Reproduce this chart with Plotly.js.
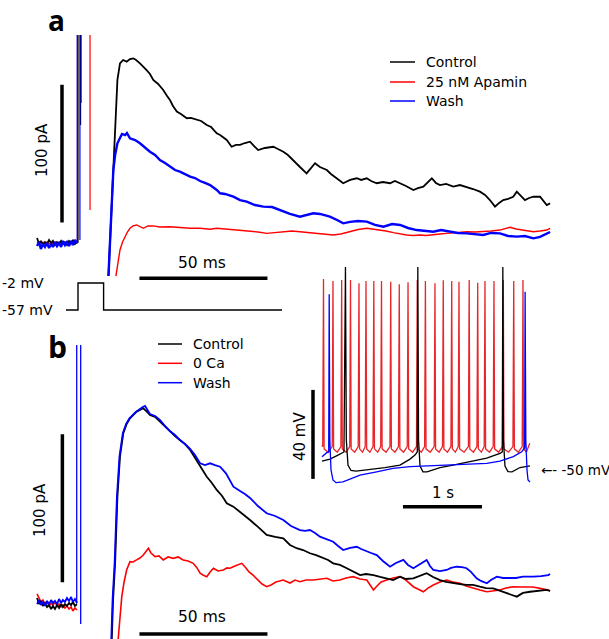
<!DOCTYPE html>
<html><head><meta charset="utf-8">
<script src="https://cdn.plot.ly/plotly-3.0.1.min.js"></script>
<style>html,body{margin:0;padding:0;background:#fff}#chart{width:609px;height:639px}</style>
</head><body><div id="chart"></div>
<script>
// ===== Panel a : tail currents (time ms, current pA) =====
const aBaseT = [-16,-15.2,-14.5,-13.7,-12.9,-12.1,-11.3,-10.5,-9.8,-9,-8.2,-7.4,-6.6,-5.9,-5.1,-4.3,-3.5,-2.7,-2,-1.2,-0.4];
const aCtrlBase = [3.6,-0.7,1.5,-1.5,0.7,-0.7,2.2,0,1.5,-1.5,0.7,-0.7,1.5,-0.7,0.7,-1.5,1.5,0,2.2,-0.7,0.7];
const aApaBase  = [0,1,0,0.5,0,0.7,-0.5,0,-0.7,0.7,0,0.5,0,0.7,-0.7,0,0.7,0,-0.5,0.5,0.7];
const aWashBase = [-2.2,0.7,-4.4,-0.7,-2.9,0,-3.6,-0.7,-2.9,0.7,-2.2,0,-2.9,1.5,-1.5,0.7,-2.2,1.5,-1.5,2.2,0];
// capacitive transients (clipped)
const aCtrlTrT = [-0.4,0,0,null,1.0,1.0], aCtrlTrI = [0.7,0.7,151.1,null,151.1,85.7];
const aApaTrT = [-0.4,-0.2,-0.2,null,1.25,1.25,null,4.7,4.7], aApaTrI = [0.7,0.7,151.1,null,151.1,101.7,null,151.1,24.0];
const aWashTrT = [-0.4,-0.3,-0.3,null,0.75,0.75], aWashTrI = [0,0,151.1,null,151.1,2.2];
// tails
const aCtrlT = [11.9,12.9,13.8,14.5,15.4,16.4,17.6,19.0,20.3,21.6,22.7,24.2,25.4,26.8,28.1,29.4,31.3,33.3,34.8,35.9,37.1,38.6,40.2,42.5,44.1,46.4,48.1,50.3,52.0,54.2,55.5,58.1,60.0,61.7,63.3,65.2,67.2,68.8,70.4,73.0,76.3,78.1,80.2,82.0,84.1,86.7,89.3,91.0,92.6,94.5,97.2,98.8,101.1,103.6,106.3,108.9,110.6,112.8,114.5,116.7,119.1,121.9,123.8,125.8,128.1,131.0,132.8,134.9,136.7,138.2,139.8,141.4,143.8,146.6,149.2,151.8,154.3,157.0,159.0,160.9,162.9,164.5,166.1,168.0,170.0,171.4,172.7,174.6,176.2,177.9,180.5,181.6,183.1,184.4];
const aCtrlI = [-24.0,20.3,58.1,89.3,118.4,130.5,132.9,131.7,133.6,134.1,132.9,130.5,128.5,125.6,122.7,118.4,115.5,111.1,106.8,103.9,99.5,95.4,93.7,90.6,90.8,89.3,88.6,85.7,84.2,79.7,78.4,74.8,69.9,71.2,71.2,72.6,73.6,70.4,67.5,69.0,69.9,68.3,66.3,63.9,60.3,55.2,50.6,54.5,57.9,55.2,53.0,50.1,47.0,43.4,45.8,47.0,45.8,47.0,45.0,43.4,44.3,43.4,45.0,43.4,41.4,38.5,39.9,40.9,44.3,47.0,43.6,42.1,42.9,40.9,42.1,40.9,39.2,37.3,34.9,31.2,26.4,29.1,31.2,32.0,33.6,37.3,34.9,31.2,32.7,33.6,33.6,31.2,27.6,28.8];
const aApaT = [14.8,15.6,16.4,17.4,18.4,19.3,20.3,21.5,22.9,24.2,25.5,27.3,29.4,32.0,35.9,39.8,43.8,47.7,51.6,54.2,57.4,60.7,63.7,67.2,70.3,73.7,77.0,80.2,83.6,86.7,89.8,93.2,96.5,99.7,102.7,106.3,109.4,112.8,115.2,118.0,120.3,123.2,125.8,128.4,130.9,133.6,135.9,138.8,141.4,144.0,147.7,151.8,155.1,158.3,161.3,164.8,166.8,168.8,171.1,174.0,175.8,177.9,180.5,183.1,184.4];
const aApaI = [-24.0,-13.8,-5.1,0.7,4.6,8.0,10.7,12.4,13.1,11.6,10.7,12.4,12.4,11.6,11.8,11.3,10.7,10.7,10.0,10.7,10.2,9.4,8.7,8.2,8.0,7.0,7.6,8.2,8.7,8.2,7.6,7.0,6.5,5.8,6.5,8.2,9.8,10.7,10.2,9.4,8.7,7.5,6.5,5.8,5.5,5.8,5.5,5.8,6.5,7.0,7.6,8.2,8.0,8.2,8.7,9.4,10.5,11.4,10.2,9.4,8.7,8.2,8.7,9.4,10.7];
const aWashT = [11.9,12.9,13.8,14.5,15.4,16.4,17.2,18.4,19.1,20.3,22.3,24.2,26.2,28.1,30.1,32.0,34.0,35.9,37.9,39.8,41.8,43.8,45.7,47.7,49.6,51.6,54.2,55.5,57.4,58.7,60.7,63.3,65.9,69.1,72.4,75.8,78.9,82.8,86.7,89.1,91.9,94.5,98.4,101.2,103.6,106.3,109.4,112.8,116.0,119.3,122.7,125.8,128.9,132.3,135.6,138.8,141.8,145.3,148.4,151.8,155.1,158.3,161.3,164.8,168.0,171.4,174.6,177.9,180.5,183.1,184.4];
const aWashI = [-24.0,16.7,53.0,63.9,72.4,76.3,79.2,78.4,79.9,76.0,74.8,72.4,69.0,66.3,63.9,60.3,58.1,55.4,53.0,51.8,50.1,48.2,47.2,45.0,43.6,42.1,38.5,36.1,35.6,34.9,33.6,31.2,30.0,27.6,26.4,26.1,24.0,21.1,19.1,20.3,21.6,21.1,19.1,16.7,14.3,15.3,16.0,15.5,13.1,11.8,13.8,13.1,10.9,9.4,8.7,8.2,9.4,8.2,7.3,7.0,6.5,5.8,7.3,7.0,5.1,4.6,5.1,3.4,4.4,7.0,8.0];

// voltage protocol (ms, mV)
const protT = [-4.7,0,0,10,10,79.7];
const protV = [-57,-57,-2,-2,-57,-57];

// ===== Panel b =====
const bBaseT = aBaseT;
const bCtrlBase = [3.4,-0.7,1.4,-2.0,0,-2.7,-1.4,-4.1,-2.0,-4.1,-1.4,-3.4,-0.7,-2.7,-0.7,-2.0,0,-1.4,0.7,-2.0,-0.7];
const bCaBase   = [6.1,2.7,0.7,2.0,-0.7,0.7,-2.0,0,-1.4,0.7,-2.0,-0.7,-2.7,-1.4,-3.4,-2.0,-4.1,-2.7,-5.4,-3.4,-4.7];
const bWashBase = [-0.7,2.0,-1.4,0.7,-2.0,1.4,-0.7,2.0,0,1.4,-0.7,2.7,0,2.0,0.7,3.4,1.4,4.1,0.7,2.7,0];
const bTrT = [-0.4,-0.5,-0.5,null,1.05,1.05], bTrI = [0,0,174.3,null,174.3,-14.2];
const bCtrlT = [13.2,13.7,14.5,15.4,16.4,17.7,19.0,20.3,22.9,24.2,25.5,27.0,28.1,30.1,32.0,34.0,35.9,37.9,39.8,41.8,43.8,45.7,47.7,50.3,52.0,54.2,56.3,58.1,60.7,63.3,65.2,67.2,70.3,73.7,77.0,80.2,82.8,85.4,87.9,90.6,93.0,95.8,97.7,99.7,102.3,105.0,107.4,110.2,112.5,115.4,118.0,120.6,123.1,125.8,128.1,131.0,133.6,136.2,138.7,141.4,143.8,146.6,149.2,151.8,154.3,157.0,159.4,162.2,164.8,167.5,169.5,171.4,173.8,176.6,179.7,183.1,184.4];
const bCtrlI = [-24.3,2.0,27.0,71.8,98.9,114.7,121.0,124.8,129.3,130.4,131.6,129.1,127.0,125.7,122.5,118.9,115.7,112.8,110.1,107.4,103.4,98.0,92.1,85.3,81.8,76.4,72.3,67.4,65.1,61.5,59.5,56.1,51.4,46.0,44.6,43.7,39.2,37.0,35.8,33.6,32.4,30.2,29.1,26.8,25.7,23.5,21.6,18.9,19.6,18.9,17.6,16.7,15.5,17.8,16.2,16.7,18.2,20.1,17.6,15.5,14.2,13.3,12.8,12.2,12.2,11.0,10.1,9.9,8.1,6.6,5.4,4.3,6.8,7.6,8.1,8.8,8.1];
const bCaT = [15.7,16.4,17.1,18.0,19.0,20.3,21.5,22.9,24.2,25.5,26.6,27.5,28.5,30.1,31.6,33.3,35.2,37.2,39.1,41.1,43.0,45.0,46.5,47.7,48.8,50.3,51.6,52.9,54.7,56.8,58.2,59.4,61.3,64.0,65.6,66.8,68.5,70.3,71.9,73.7,75.4,77.3,80.2,82.8,84.8,86.7,89.1,91.9,94.5,97.2,99.6,102.3,104.7,107.5,110.2,112.8,114.1,115.4,116.8,118.4,120.6,123.1,125.8,128.1,131.0,132.8,134.9,136.7,138.8,141.4,144.0,146.5,149.2,151.6,154.4,157.0,159.7,162.1,164.8,167.2,170.0,172.7,175.3,177.7,180.5,182.4,183.7,184.4];
const bCaI = [-24.3,-10.1,4.3,14.2,22.3,27.9,27.7,29.1,30.4,32.4,35.1,37.0,33.8,31.3,31.8,29.1,31.1,30.2,31.1,29.1,28.4,26.8,23.7,20.1,18.9,17.8,21.0,23.5,21.6,22.3,23.7,23.5,25.0,26.8,23.7,21.0,18.6,15.5,12.8,11.0,12.2,14.2,15.5,13.5,15.5,14.4,15.5,15.5,16.2,16.7,14.9,15.5,16.9,17.8,16.2,15.5,12.2,8.8,11.5,14.2,15.5,16.9,17.8,15.5,11.0,9.5,7.6,10.1,12.2,14.2,15.5,14.2,13.3,11.5,9.9,8.8,7.6,8.1,8.8,10.1,11.0,10.8,11.0,10.8,9.9,9.5,8.8,8.1];
const bWashT = [13.0,13.5,14.3,15.2,16.2,17.5,18.8,20.1,22.7,24.0,25.3,26.2,27.0,28.1,30.1,32.0,34.0,35.9,37.9,39.8,41.8,43.8,45.7,47.7,49.6,51.6,53.5,55.5,57.8,60.7,63.3,65.2,67.2,70.3,73.7,77.0,80.2,83.2,86.7,88.7,90.6,92.6,94.5,96.9,99.7,101.6,103.6,106.3,108.9,110.6,112.8,114.5,116.7,119.1,121.9,124.2,127.1,128.9,131.0,133.6,136.2,137.5,138.8,141.4,144.0,145.7,147.9,150.0,151.8,153.5,155.7,157.4,159.7,161.3,163.6,166.0,168.8,171.1,173.8,175.8,177.9,180.9,183.7,184.4];
const bWashI = [-24.3,2.0,27.0,71.8,98.9,114.7,121.0,124.8,129.3,131.1,132.4,133.1,131.1,127.7,126.4,123.7,119.6,116.2,113.5,110.1,107.4,104.1,100.0,94.4,93.2,94.4,93.2,92.1,87.6,78.6,75.7,73.7,71.0,65.5,60.6,58.8,56.1,52.0,49.3,48.7,49.3,47.3,44.8,43.2,41.4,38.5,35.8,37.2,38.0,36.5,34.7,33.8,32.4,28.4,24.5,27.0,29.1,25.7,23.5,26.4,29.1,25.0,22.3,21.6,22.3,23.7,24.5,24.3,23.5,21.0,16.7,14.9,13.3,15.5,17.8,16.9,16.7,16.9,17.8,17.6,17.8,18.2,18.9,19.6];

// ===== Inset : firing (time s, membrane potential mV) =====
const redSpikeT = [0.019,0.139,0.249,0.361,0.468,0.557,0.656,0.753,0.870,0.978,1.089,1.206,1.309,1.430,1.535,1.642,1.734,1.863,1.971,2.063,2.177,2.295,2.427,2.544];
const redSpikePeak = [35.8,34.9,35.4,35.4,33.9,34.9,34.9,34.9,34.6,33.5,34.4,35.4,34.9,33.9,35.3,34.9,34.6,35.4,34.2,34.9,34.9,35.4,34.9,35.4];
const redThresh = -39.5, redAfter = -40.5, redAhp = -42.0;
const redStart = [0, -38.8], redEnd = [2.63, -38.0];
const ctrlVmT = [0,0.101,0.203,0.278,0.297,0.308,0.329,0.367,0.430,0.608,0.797,0.987,1.114,1.177,1.206,1.213,1.222,1.241,1.278,1.329,1.494,1.658,1.873,2.085,2.253,2.282,2.289,2.297,2.316,2.354,2.405,2.506,2.633];
const ctrlVm  = [-46.0,-45.1,-43.3,-41.9,41.2,-36.5,-47.8,-50.2,-50.5,-49.8,-48.9,-47.8,-45.1,-43.3,-41.9,41.2,-36.5,-48.2,-50.8,-50.8,-48.9,-47.8,-46.4,-44.7,-42.5,-41.9,41.2,-36.5,-48.2,-50.7,-50.8,-48.9,-48.1];
const washVmT = [0,0.063,0.085,0.091,0.099,0.114,0.139,0.177,0.266,0.481,0.692,0.899,1.114,1.367,1.658,1.873,2.085,2.253,2.422,2.528,2.565,2.571,2.580,2.595,2.608,2.633];
const washVm  = [-44.0,-42.1,-41.9,29.0,-36.5,-50.0,-54.5,-55.7,-55.3,-52.3,-50.8,-49.3,-48.5,-48.1,-47.8,-47.5,-47.0,-46.0,-44.0,-41.8,-40.1,30.1,-36.5,-50.0,-54.5,-55.4];

// ===== helpers =====
function join(parts){const o=[];parts.forEach((p,i)=>{if(i)o.push(null);o.push(...p);});return o;}
function redTrace(){
  const x=[redStart[0]], y=[redStart[1]];
  redSpikeT.forEach((t,i)=>{
    x.push(t-0.01, t, t+0.008); y.push(redThresh, redSpikePeak[i], redAfter);
    const nxt = i<redSpikeT.length-1 ? redSpikeT[i+1] : redEnd[0];
    x.push((t+nxt)/2); y.push(redAhp);
  });
  x.push(redEnd[0]); y.push(redEnd[1]);
  return {x,y};
}
const RED='#f00', BLUE='#00f', BLACK='#000';
function tr(x,y,color,w,xa,ya){return {type:'scatter',mode:'lines',x,y,xaxis:xa,yaxis:ya,line:{color,width:w},hoverinfo:'skip',showlegend:false,connectgaps:false};}

const traces = [
  // panel a
  tr(aApaTrT, aApaTrI, RED, 1.2, 'x','y'),
  tr(aCtrlTrT, aCtrlTrI, BLACK, 1.2, 'x','y'),
  tr(aWashTrT, aWashTrI, BLUE, 1.2, 'x','y'),
  tr(join([aBaseT, aApaT]), join([aApaBase, aApaI]), RED, 1.4, 'x','y'),
  tr(join([aBaseT, aCtrlT]), join([aCtrlBase, aCtrlI]), BLACK, 1.8, 'x','y'),
  tr(join([aBaseT, aWashT]), join([aWashBase, aWashI]), BLUE, 2.4, 'x','y'),
  // protocol
  tr(protT, protV, BLACK, 1.4, 'x','y3'),
  // panel b
  tr(bTrT, bTrI, BLUE, 1.3, 'x','y2'),
  tr(join([bBaseT, bCaT]), join([bCaBase, bCaI]), RED, 1.6, 'x','y2'),
  tr(join([bBaseT, bCtrlT]), join([bCtrlBase, bCtrlI]), BLACK, 1.8, 'x','y2'),
  tr(join([bBaseT, bWashT]), join([bWashBase, bWashI]), BLUE, 1.8, 'x','y2'),
];
const rt = redTrace();
traces.push(tr(rt.x, rt.y, '#e8262a', 1.3, 'x2','y4'));
traces.push(tr(ctrlVmT, ctrlVm, BLACK, 1.3, 'x2','y4'));
traces.push(tr(washVmT, washVm, BLUE, 1.3, 'x2','y4'));

const W=609, H=639;
const px = v => v/W, py = v => 1 - v/H;
const hid = {visible:false, showgrid:false, zeroline:false, fixedrange:true};
const F = 'DejaVu Sans, Verdana, sans-serif';

function bar(xref,yref,x0,y0,x1,y1,w){return {type:'line',xref,yref,x0,y0,x1,y1,line:{color:'#000',width:w}};}
function pline(x0,x1,y,color){return {type:'line',xref:'paper',yref:'paper',x0:px(x0),x1:px(x1),y0:py(y),y1:py(y),line:{color,width:1.5}};}
function txt(text,x,y,size,opts){return Object.assign({text,x:px(x),y:py(y),xref:'paper',yref:'paper',showarrow:false,xanchor:'center',yanchor:'middle',font:{family:F,size,color:'#000'}},opts||{});}

const LF = {family:'Open Sans, DejaVu Sans, sans-serif',size:28,color:'#000'};
const shapes = [
  bar('x','y',-6.25,14.9,-6.25,114.9,3.5),
  bar('x','y',24,-25.6,74,-25.6,3.5),
  bar('x','y2',-6.1,14,-6.1,114,3.5),
  bar('x','y2',24,-20.95,74,-20.95,3.5),
  bar('x2','y4',-0.114,-54,-0.114,-14,3.5),
  bar('x2','y4',1.025,-66.5,2.025,-66.5,3.5),
  pline(390,415,62,BLACK), pline(390,415,82,RED), pline(390,415,101,BLUE),
  pline(158,182,344,BLACK), pline(158,182,363.3,RED), pline(158,182,382.7,BLUE),
];
const annotations = [
  txt('<b>a</b>',56,0,28,{font:LF,yanchor:'top',borderpad:0}),
  txt('<b>b</b>',57,347,30,{font:Object.assign({},LF,{size:30})}),
  txt('100 pA',42,150,15,{textangle:-90}),
  txt('50 ms',202,263,15.5),
  txt('-2 mV',0,283,14,{xanchor:'left'}),
  txt('-57 mV',0,310,14,{xanchor:'left'}),
  txt('Control',424,62,14,{xanchor:'left'}),
  txt('25 nM Apamin',424,82,14,{xanchor:'left'}),
  txt('Wash',424,101,14,{xanchor:'left'}),
  txt('Control',191,344,14,{xanchor:'left'}),
  txt('0 Ca',191,363.3,14,{xanchor:'left'}),
  txt('Wash',191,382.7,14,{xanchor:'left'}),
  txt('100 pA',40,510,15,{textangle:-90}),
  txt('50 ms',202,617,15.5),
  txt('40 mV',300,437,15,{textangle:-90}),
  txt('1 s',443,493,15),
  txt('\u2190- -50 mV',539,470,13.5,{xanchor:'left'}),
];

const layout = {
  width:W, height:H, margin:{l:0,r:0,t:0,b:0,pad:0},
  paper_bgcolor:'#fff', plot_bgcolor:'#fff', showlegend:false,
  xaxis:Object.assign({range:[-30.469,207.422]},hid),
  xaxis2:Object.assign({range:[-4.07595,3.63291],overlaying:'x'},hid),
  yaxis:Object.assign({range:[-287.582,176.471]},hid),
  yaxis2:Object.assign({range:[-24.324,407.432],overlaying:'y'},hid),
  yaxis3:Object.assign({range:[-727.19,574.48],overlaying:'y'},hid),
  yaxis4:Object.assign({range:[-125.955,161.236],overlaying:'y'},hid),
  shapes, annotations
};
Plotly.newPlot('chart', traces, layout, {staticPlot:true, displayModeBar:false});
</script></body></html>
